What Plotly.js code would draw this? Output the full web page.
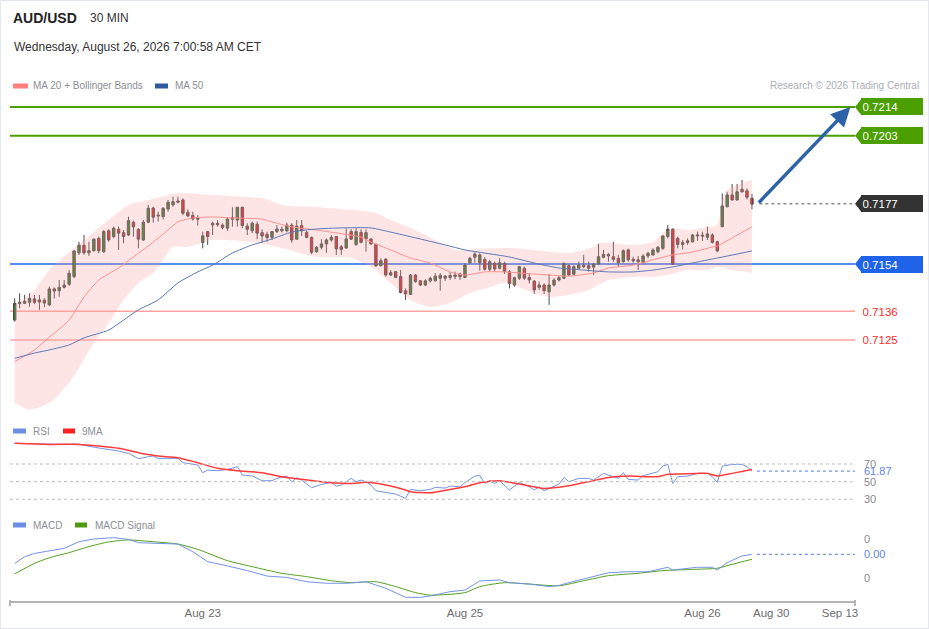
<!DOCTYPE html>
<html><head><meta charset="utf-8">
<script src="https://cdn.plot.ly/plotly-3.0.1.min.js"></script>
<style>
html,body{margin:0;padding:0;background:#fff;}
#wrap{position:relative;width:929px;height:629px;overflow:hidden;}
#chart{position:absolute;left:0;top:0;width:929px;height:629px;}
#frame{position:absolute;left:0;top:0;width:927px;height:627px;border:1px solid #e3e8ee;pointer-events:none;}
</style></head><body>
<div id="wrap"><div id="chart"></div><div id="frame"></div></div>
<script>
// ---------- data ----------
const open = [
0.71326,0.71389,0.71390,0.71394,0.71407,0.71403,0.71402,0.71384,0.71445,0.71438,
0.71451,0.71463,0.71492,0.71583,0.71612,0.71583,0.71591,0.71638,0.71587,0.71667,
0.71645,0.71673,0.71660,0.71651,0.71700,0.71673,0.71632,0.71700,0.71754,0.71727,
0.71721,0.71750,0.71766,0.71776,0.71785,0.71738,0.71726,0.71717,0.71623,0.71664,
0.71689,0.71696,0.71689,0.71677,0.71711,0.71708,0.71757,0.71685,0.71667,0.71692,
0.71660,0.71654,0.71642,0.71664,0.71667,0.71667,0.71689,0.71635,0.71687,0.71661,
0.71642,0.71587,0.71604,0.71617,0.71632,0.71645,0.71606,0.71601,0.71664,0.71615,
0.71661,0.71636,0.71636,0.71615,0.71534,0.71559,0.71498,0.71511,0.71492,0.71438,
0.71424,0.71498,0.71476,0.71460,0.71476,0.71476,0.71486,0.71494,0.71489,0.71492,
0.71502,0.71489,0.71545,0.71566,0.71545,0.71558,0.71520,0.71543,0.71524,0.71543,
0.71511,0.71460,0.71486,0.71524,0.71489,0.71475,0.71451,0.71460,0.71434,0.71460,
0.71479,0.71486,0.71534,0.71501,0.71524,0.71530,0.71534,0.71528,0.71540,0.71566,
0.71577,0.71568,0.71562,0.71549,0.71594,0.71558,0.71556,0.71545,0.71571,0.71575,
0.71587,0.71600,0.71645,0.71673,0.71638,0.71622,0.71629,0.71625,0.71647,0.71651,
0.71642,0.71651,0.71625,0.71683,0.71759,0.71804,0.71785,0.71826,0.71820,0.71791];
const high = [
0.71409,0.71428,0.71422,0.71428,0.71422,0.71422,0.71409,0.71454,0.71451,0.71479,
0.71479,0.71517,0.71594,0.71625,0.71651,0.71625,0.71638,0.71645,0.71670,0.71673,
0.71683,0.71683,0.71670,0.71721,0.71706,0.71677,0.71708,0.71766,0.71759,0.71740,
0.71757,0.71785,0.71797,0.71797,0.71791,0.71749,0.71740,0.71727,0.71664,0.71667,
0.71702,0.71708,0.71696,0.71719,0.71757,0.71759,0.71759,0.71696,0.71702,0.71702,
0.71673,0.71664,0.71666,0.71689,0.71683,0.71698,0.71696,0.71708,0.71708,0.71667,
0.71645,0.71609,0.71635,0.71638,0.71651,0.71647,0.71613,0.71677,0.71673,0.71677,
0.71673,0.71673,0.71638,0.71619,0.71562,0.71562,0.71517,0.71513,0.71517,0.71447,
0.71502,0.71502,0.71479,0.71482,0.71492,0.71505,0.71505,0.71498,0.71509,0.71511,
0.71507,0.71543,0.71568,0.71587,0.71581,0.71566,0.71556,0.71549,0.71562,0.71549,
0.71517,0.71492,0.71533,0.71530,0.71505,0.71479,0.71473,0.71466,0.71502,0.71486,
0.71494,0.71545,0.71539,0.71536,0.71549,0.71575,0.71549,0.71545,0.71617,0.71594,
0.71581,0.71625,0.71575,0.71596,0.71599,0.71568,0.71571,0.71578,0.71587,0.71600,
0.71609,0.71651,0.71689,0.71677,0.71645,0.71632,0.71638,0.71655,0.71664,0.71664,
0.71683,0.71658,0.71629,0.71810,0.71816,0.71846,0.71846,0.71861,0.71829,0.71808];
const low = [
0.71320,0.71371,0.71387,0.71377,0.71387,0.71365,0.71375,0.71380,0.71409,0.71415,
0.71447,0.71456,0.71486,0.71575,0.71575,0.71571,0.71587,0.71581,0.71583,0.71625,
0.71638,0.71594,0.71619,0.71647,0.71645,0.71600,0.71629,0.71696,0.71698,0.71702,
0.71711,0.71740,0.71759,0.71772,0.71727,0.71719,0.71706,0.71687,0.71600,0.71613,
0.71651,0.71683,0.71673,0.71667,0.71683,0.71683,0.71677,0.71651,0.71658,0.71635,
0.71622,0.71625,0.71632,0.71658,0.71661,0.71661,0.71622,0.71632,0.71647,0.71638,
0.71578,0.71583,0.71596,0.71583,0.71625,0.71575,0.71575,0.71599,0.71632,0.71609,
0.71619,0.71587,0.71613,0.71530,0.71530,0.71492,0.71494,0.71486,0.71428,0.71403,
0.71422,0.71469,0.71456,0.71456,0.71469,0.71473,0.71438,0.71476,0.71479,0.71482,
0.71479,0.71486,0.71540,0.71545,0.71515,0.71515,0.71511,0.71511,0.71520,0.71502,
0.71447,0.71454,0.71479,0.71479,0.71466,0.71426,0.71441,0.71426,0.71384,0.71454,
0.71473,0.71482,0.71494,0.71497,0.71520,0.71524,0.71511,0.71498,0.71536,0.71562,
0.71549,0.71549,0.71528,0.71545,0.71549,0.71545,0.71517,0.71543,0.71562,0.71571,
0.71581,0.71594,0.71638,0.71536,0.71600,0.71596,0.71613,0.71622,0.71629,0.71628,
0.71632,0.71619,0.71585,0.71680,0.71757,0.71782,0.71782,0.71813,0.71787,0.71749];
const close = [
0.71390,0.71394,0.71398,0.71409,0.71394,0.71395,0.71391,0.71445,0.71437,0.71451,
0.71460,0.71505,0.71590,0.71612,0.71583,0.71591,0.71635,0.71591,0.71664,0.71632,
0.71677,0.71658,0.71645,0.71706,0.71682,0.71635,0.71700,0.71753,0.71719,0.71724,
0.71753,0.71776,0.71778,0.71781,0.71734,0.71724,0.71712,0.71711,0.71648,0.71645,
0.71696,0.71690,0.71680,0.71712,0.71717,0.71757,0.71687,0.71673,0.71696,0.71658,
0.71647,0.71641,0.71664,0.71674,0.71673,0.71689,0.71632,0.71685,0.71667,0.71642,
0.71585,0.71604,0.71617,0.71632,0.71642,0.71598,0.71596,0.71636,0.71635,0.71664,
0.71623,0.71660,0.71617,0.71533,0.71553,0.71498,0.71507,0.71489,0.71432,0.71426,
0.71498,0.71473,0.71460,0.71476,0.71486,0.71494,0.71497,0.71486,0.71496,0.71498,
0.71492,0.71536,0.71562,0.71578,0.71575,0.71520,0.71549,0.71521,0.71545,0.71511,
0.71466,0.71488,0.71530,0.71486,0.71479,0.71441,0.71460,0.71438,0.71460,0.71479,
0.71488,0.71543,0.71498,0.71530,0.71536,0.71536,0.71524,0.71539,0.71568,0.71577,
0.71571,0.71558,0.71545,0.71591,0.71556,0.71552,0.71549,0.71571,0.71581,0.71594,
0.71604,0.71647,0.71673,0.71539,0.71615,0.71615,0.71622,0.71651,0.71651,0.71647,
0.71655,0.71622,0.71590,0.71762,0.71804,0.71785,0.71816,0.71816,0.71795,0.71769];

const bbUpperIdx = [0,4,7,11,14,17,23,27,31,33,37,44,50,54,61,68,73,76,81,85,89,93,100,105,112,117,118,125,129,131,133,136,140,142,143,144,147,149];
const bbUpper = [0.71384,0.71441,0.71517,0.71586,0.71632,0.71678,0.71766,0.71785,0.71804,0.71811,0.71808,0.71800,0.71792,0.71766,0.71758,0.71747,0.71735,0.71708,0.71670,0.71632,0.71594,0.71598,0.71601,0.71594,0.71582,0.71605,0.71620,0.71613,0.71624,0.71659,0.71678,0.71670,0.71682,0.71689,0.71785,0.71823,0.71850,0.71861];
const bbLowerIdx = [0,3,7,11,14,16,19,22,25,28,30,32,35,40,48,54,61,68,72,76,80,84,88,92,96,99,105,108,112,116,120,125,129,132,136,140,142,145,149];
const bbLower = [0.71009,0.70983,0.71009,0.71086,0.71174,0.71238,0.71315,0.71403,0.71468,0.71506,0.71556,0.71605,0.71605,0.71632,0.71624,0.71601,0.71567,0.71563,0.71529,0.71468,0.71403,0.71376,0.71391,0.71429,0.71452,0.71468,0.71429,0.71414,0.71422,0.71441,0.71479,0.71491,0.71491,0.71498,0.71517,0.71517,0.71529,0.71517,0.71506];
const ma20Idx = [0,4,7,11,14,17,21,24,27,31,33,36,40,44,50,52,56,61,65,70,72,76,80,84,88,91,95,99,102,108,112,117,120,125,129,133,137,141,142,145,149];
const ma20 = [0.71167,0.71212,0.71261,0.71326,0.71414,0.71479,0.71525,0.71567,0.71609,0.71670,0.71701,0.71716,0.71720,0.71716,0.71712,0.71701,0.71682,0.71670,0.71659,0.71643,0.71624,0.71594,0.71563,0.71544,0.71510,0.71498,0.71510,0.71510,0.71506,0.71498,0.71494,0.71506,0.71525,0.71536,0.71556,0.71575,0.71586,0.71605,0.71609,0.71640,0.71682];
const ma50Idx = [0,4,7,11,14,19,22,25,29,33,37,40,44,48,50,52,56,61,66,72,76,81,87,91,95,100,105,110,115,120,125,129,133,138,142,149];
const ma50 = [0.71180,0.71200,0.71212,0.71231,0.71258,0.71288,0.71326,0.71365,0.71403,0.71468,0.71510,0.71536,0.71582,0.71613,0.71624,0.71636,0.71662,0.71674,0.71678,0.71678,0.71662,0.71640,0.71613,0.71594,0.71582,0.71567,0.71544,0.71525,0.71517,0.71510,0.71510,0.71517,0.71529,0.71548,0.71563,0.71590];

const rsiIdx = [0,4,7,10,13,14,17,19,21,23,25,27,28,29,31,33,34,37,38,39,41,43,45,46,48,50,52,53,55,56,57,58,60,62,64,65,66,68,69,70,71,72,73,75,77,79,80,82,84,85,87,88,90,91,93,94,95,96,97,98,100,102,104,105,106,107,109,110,111,112,114,116,117,119,120,122,123,124,126,127,130,131,132,133,134,136,138,140,141,142,143,145,147,148,149];
const rsi = [93.5,93.1,92.3,92.3,92.7,91.2,88.2,86.7,84.8,82.1,76.1,78.3,79.1,76.4,76.8,76.4,71.5,68.9,60.2,63.2,62.4,63.9,67.0,57.5,56.4,51.1,51.1,53.7,56.4,49.9,54.5,51.8,43.1,46.9,49.2,45.0,46.1,53.7,49.9,51.8,49.9,46.1,39.7,37.4,35.9,31.0,41.2,39.7,41.2,43.5,42.7,45.0,44.2,48.8,56.4,57.1,48.0,51.1,48.0,51.1,40.5,49.2,44.2,40.5,44.2,39.7,45.0,47.3,54.8,49.9,53.7,53.7,51.8,59.4,57.5,53.7,60.2,52.6,51.8,56.7,61.3,67.7,69.6,48.0,55.6,56.4,59.4,59.4,55.6,49.2,67.7,69.6,69.6,67.0,61.87];
const rsiMaIdx = [0,7,13,17,21,25,29,33,37,41,45,50,54,58,62,64,68,71,74,78,80,84,88,91,94,98,102,107,112,116,120,124,130,132,138,140,142,145,149];
const rsiMa = [93.5,92.3,92.3,90.5,87.8,82.9,79.1,77.2,71.5,65.1,62.4,60.2,55.6,52.6,49.9,48.8,48.0,49.2,47.3,42.3,38.6,37.4,41.2,44.2,48.8,51.1,47.3,42.3,45.4,49.9,54.8,56.4,55.6,58.3,59.4,59.4,56.4,59.4,63.9];
const rsiLevels = [70, 50, 30];

const macdIdx = [0,2,4,7,10,13,16,20,23,25,29,33,36,39,43,47,51,55,59,63,67,71,75,79,82,84,88,91,94,98,100,104,108,110,112,116,120,124,128,132,133,138,141,142,144,147,149];
const macd = [-0.00025,0.00009,0.00026,0.00038,0.00052,0.00086,0.00100,0.00107,0.00098,0.00081,0.00078,0.00074,0.00035,-0.00016,-0.00038,-0.00062,-0.00090,-0.00097,-0.00119,-0.00127,-0.00127,-0.00119,-0.00153,-0.00199,-0.00199,-0.00192,-0.00170,-0.00162,-0.00115,-0.00110,-0.00124,-0.00131,-0.00144,-0.00138,-0.00124,-0.00097,-0.00073,-0.00068,-0.00068,-0.00045,-0.00059,-0.00045,-0.00045,-0.00059,-0.00021,0.00013,0.00021];
const signalIdx = [0,4,7,11,15,19,23,28,33,37,43,48,54,59,64,68,73,77,81,84,91,94,99,104,110,115,120,126,131,137,142,145,149];
const signal = [-0.00079,-0.00025,0.00004,0.00030,0.00061,0.00085,0.00095,0.00086,0.00074,0.00047,-0.00011,-0.00042,-0.00076,-0.00093,-0.00114,-0.00124,-0.00119,-0.00144,-0.00175,-0.00188,-0.00175,-0.00144,-0.00124,-0.00131,-0.00140,-0.00114,-0.00088,-0.00076,-0.00062,-0.00056,-0.00050,-0.00030,-0.00004];
const macdTicks = [0.001, -0.001];

const levels = [0.7214, 0.7203, 0.7177, 0.7154, 0.7136, 0.7125];
const tickVals = [38, 91, 139, 152.9, 166.8];
const tickText = ['Aug 23', 'Aug 25', 'Aug 26', 'Aug 30', 'Sep 13'];

// ---------- layout helpers ----------
const px = x => (x - 10) / 845;
const py = y => (601 - y) / 601;
const idx = open.map((_, i) => i);
const XR = [-0.95, 169.83];
const FONT = '"Liberation Sans", Arial, Helvetica, sans-serif';
const BLUE_IND = '#7393e6';

const traces = [
  {type:'scatter', mode:'lines', x:bbUpperIdx, y:bbUpper, line:{width:0, shape:'spline', smoothing:0.6}, hoverinfo:'skip'},
  {type:'scatter', mode:'lines', x:bbLowerIdx, y:bbLower, line:{width:0, shape:'spline', smoothing:0.6}, fill:'tonexty', fillcolor:'rgba(250,160,160,0.28)', hoverinfo:'skip'},
  {type:'scatter', mode:'lines', x:ma20Idx, y:ma20, line:{color:'#ff8f8f', width:1, shape:'spline', smoothing:0.6}, hoverinfo:'skip'},
  {type:'scatter', mode:'lines', x:ma50Idx, y:ma50, line:{color:'#5a78b8', width:1, shape:'spline', smoothing:0.6}, hoverinfo:'skip'},
  {type:'candlestick', x:idx, open:open, high:high, low:low, close:close, whiskerwidth:0,
   increasing:{line:{color:'#4a4a4a', width:1}, fillcolor:'#247a24'},
   decreasing:{line:{color:'#4a4a4a', width:1}, fillcolor:'#e8141c'}, hoverinfo:'skip'},
  {type:'scatter', mode:'lines', x:rsiIdx, y:rsi, yaxis:'y2', line:{color:BLUE_IND, width:1}, hoverinfo:'skip'},
  {type:'scatter', mode:'lines', x:rsiMaIdx, y:rsiMa, yaxis:'y2', line:{color:'#ff3b3b', width:1.5, shape:'spline', smoothing:0.6}, hoverinfo:'skip'},
  {type:'scatter', mode:'lines', x:signalIdx, y:signal, yaxis:'y3', line:{color:'#55a020', width:1, shape:'spline', smoothing:0.6}, hoverinfo:'skip'},
  {type:'scatter', mode:'lines', x:macdIdx, y:macd, yaxis:'y3', line:{color:BLUE_IND, width:1}, hoverinfo:'skip'}
];

const shapes = [];
const annotations = [];

// horizontal levels
const lvlStyle = [
  {c:'#4c9f00', w:2, box:'#4c9f00', txt:'#fff'},
  {c:'#4c9f00', w:2, box:'#4c9f00', txt:'#fff'},
  {c:'#555', w:1, box:'#333333', txt:'#fff', dot:true},
  {c:'#1f63e8', w:1.5, box:'#1f63e8', txt:'#fff'},
  {c:'#ffa3a3', w:1.5, box:null, txt:'#ff2b2b'},
  {c:'#ffa3a3', w:1.5, box:null, txt:'#ff2b2b'}
];
const halfH = 8.2 * (0.721858 - 0.709634) / 320;
levels.forEach((lv, i) => {
  const s = lvlStyle[i];
  if (s.dot) {
    shapes.push({type:'line', xref:'x', yref:'y', x0:idx.length + 0.5, x1:XR[1], y0:lv, y1:lv, line:{color:s.c, width:1, dash:'dot'}});
  } else {
    shapes.push({type:'line', xref:'paper', yref:'y', x0:0, x1:1, y0:lv, y1:lv, line:{color:s.c, width:s.w}, layer:'below'});
  }
  if (s.box) {
    shapes.push({type:'path', xref:'paper', yref:'y',
      path:`M ${px(855)},${lv} L ${px(861.5)},${lv + halfH} L ${px(861.5)},${lv - halfH} Z`,
      fillcolor:s.box, line:{width:0}});
  }
  annotations.push({xref:'paper', yref:'y', x:px(861), y:lv, xanchor:'left', yanchor:'middle',
    text:lv.toFixed(4), showarrow:false, align:'left', width:s.box ? 59 : 60, height:14,
    bgcolor:s.box || 'rgba(0,0,0,0)', borderpad:s.box ? 1.5 : 1.5, borderwidth:0,
    font:{family:FONT, size:11.5, color:s.txt}});
});

// projection arrow
annotations.push({xref:'x', yref:'y', axref:'x', ayref:'y', x:168.9, y:levels[0], ax:150.1, ay:close[close.length - 1],
  text:'', showarrow:true, arrowhead:2, arrowsize:1.1, arrowwidth:3.5, arrowcolor:'#2e62a8', standoff:0});

// RSI levels
rsiLevels.forEach(v => {
  shapes.push({type:'line', xref:'paper', yref:'y2', x0:0, x1:0.997, y0:v, y1:v, line:{color:'#bdbdbd', width:1, dash:'dot'}});
  annotations.push({xref:'paper', yref:'y2', x:px(862), y:v, xanchor:'left', yanchor:'middle', text:String(v), showarrow:false,
    font:{family:FONT, size:11, color:'#8a8a8a'}});
});
const lastRsi = rsi[rsi.length - 1];
shapes.push({type:'line', xref:'x', yref:'y2', x0:idx.length, x1:XR[1], y0:lastRsi, y1:lastRsi, line:{color:BLUE_IND, width:1.2, dash:'dot'}});
annotations.push({xref:'paper', yref:'y2', x:px(862), y:lastRsi, xanchor:'left', yanchor:'middle', text:lastRsi.toFixed(2), showarrow:false,
  font:{family:FONT, size:11, color:'#5f84e2'}});

// MACD labels
macdTicks.forEach(v => {
  annotations.push({xref:'paper', yref:'y3', x:px(862), y:v, xanchor:'left', yanchor:'middle', text:String(Math.round(v)), showarrow:false,
    font:{family:FONT, size:11, color:'#8a8a8a'}});
});
const lastMacd = macd[macd.length - 1];
shapes.push({type:'line', xref:'x', yref:'y3', x0:idx.length, x1:XR[1], y0:lastMacd, y1:lastMacd, line:{color:BLUE_IND, width:1.2, dash:'dot'}});
annotations.push({xref:'paper', yref:'y3', x:px(862), y:lastMacd, xanchor:'left', yanchor:'middle', text:lastMacd.toFixed(2), showarrow:false,
  font:{family:FONT, size:11, color:'#5f84e2'}});

// axis end ticks
[0, 1].forEach(xp => {
  shapes.push({type:'line', xref:'paper', yref:'paper', x0:xp, x1:xp, y0:py(600), y1:py(606), line:{color:'#b4b4b4', width:2}});
});

// header texts
const txt = (x, y, t, size, color, anchor) => annotations.push({xref:'paper', yref:'paper', x:px(x), y:py(y),
  xanchor:anchor || 'left', yanchor:'middle', text:t, showarrow:false, font:{family:FONT, size:size, color:color}});
txt(11, 18, '<b>AUD/USD</b>', 14, '#222');
txt(88, 18, '30 MIN', 12, '#333');
txt(12, 47, 'Wednesday, August 26, 2026 7:00:58 AM CET', 12, '#333');
txt(31, 86, 'MA 20 + Bollinger Bands', 10, '#8a8f96');
txt(173, 86, 'MA 50', 10, '#8a8f96');
txt(921, 86, 'Research © 2026 Trading Central', 10, '#a9aeb4', 'right');
txt(31, 431, 'RSI', 10, '#8a8f96');
txt(80, 431, '9MA', 10, '#8a8f96');
txt(31, 525, 'MACD', 10, '#8a8f96');
txt(93, 525, 'MACD Signal', 10, '#8a8f96');

// legend swatches
const sw = (x0, x1, y, color) => shapes.push({type:'rect', xref:'paper', yref:'paper', x0:px(x0), x1:px(x1), y0:py(y + 2.5), y1:py(y - 2.5), fillcolor:color, line:{width:0}});
sw(13, 28, 86, '#ff7f7f');
sw(155, 168, 86, '#2f5a9e');
sw(13, 26, 431, '#6b8ee6');
sw(63, 75, 431, '#ff2020');
sw(13, 26, 525, '#6b8ee6');
sw(75, 87, 525, '#4c9a10');

const layout = {
  width:929, height:629, margin:{l:10, r:74, t:0, b:28},
  paper_bgcolor:'#ffffff', plot_bgcolor:'rgba(0,0,0,0)', showlegend:false,
  font:{family:FONT, color:'#666'},
  xaxis:{range:XR, anchor:'y3', showline:true, linecolor:'#b4b4b4', linewidth:2, showgrid:false, zeroline:false,
    tickmode:'array', tickvals:tickVals, ticktext:tickText, ticks:'', tickfont:{family:FONT, size:11.5, color:'#6d6d6d'},
    rangeslider:{visible:false}, fixedrange:true},
  yaxis:{domain:[0.30948, 0.84193], range:[0.709634, 0.721858], visible:false, fixedrange:true},
  yaxis2:{domain:[0.15141, 0.26789], range:[17.84, 97.27], visible:false, anchor:'x', fixedrange:true},
  yaxis3:{domain:[0, 0.11814], range:[-0.0021795, 0.0014615], visible:false, anchor:'x', fixedrange:true},
  shapes:shapes, annotations:annotations
};

Plotly.newPlot('chart', traces, layout, {staticPlot:true, displayModeBar:false});
</script>
</body></html>
